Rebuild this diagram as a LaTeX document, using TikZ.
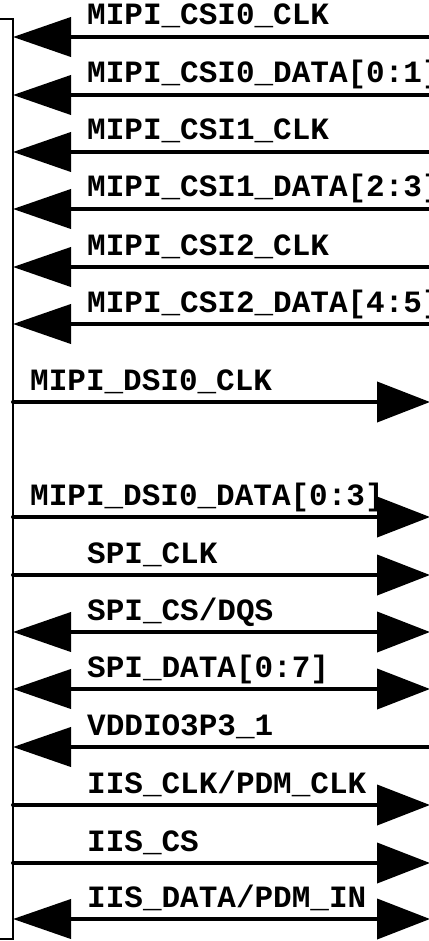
\documentclass[tikz,border=0pt]{standalone}
\usepackage{fontspec}
\setmonofont{Liberation Mono}
\usetikzlibrary{arrows.meta}

\tikzset{
  sig/.style={line width=4pt},
  sigin/.style={sig,{Triangle[length=58pt,width=39pt]}-},
  sigout/.style={sig,line cap=round,-{Triangle[length=53pt,width=40pt]}},
  sigbi/.style={sig,{Triangle[length=58pt,width=39pt]}-{Triangle[length=53pt,width=40pt]}},
  lbl/.style={anchor=base west,inner sep=0pt,font=\ttfamily\bfseries\fontsize{31}{31}\selectfont}
}

\begin{document}
\begin{tikzpicture}[x=1pt,y=-1pt]
\useasboundingbox (0,0) rectangle (428,941);
% block edge
\draw[line width=1.5pt] (0,19) -- (13,19) -- (13,939) -- (0,939);
% signal rows: index/y/label x/name
\foreach \i/\y/\x/\txt in {
  1/37/87/{MIPI\_CSI0\_CLK},
  2/95/87/{MIPI\_CSI0\_DATA[0:1]},
  3/152/87/{MIPI\_CSI1\_CLK},
  4/209/87/{MIPI\_CSI1\_DATA[2:3]},
  5/267/87/{MIPI\_CSI2\_CLK},
  6/324/87/{MIPI\_CSI2\_DATA[4:5]},
  7/402/30/{MIPI\_DSI0\_CLK},
  8/517/30/{MIPI\_DSI0\_DATA[0:3]},
  9/575/87/{SPI\_CLK},
  10/632/87/{SPI\_CS/DQS},
  11/689/87/{SPI\_DATA[0:7]},
  12/747/87/{VDDIO3P3\_1},
  13/805/87/{IIS\_CLK/PDM\_CLK},
  14/863/87/{IIS\_CS},
  15/919/87/{IIS\_DATA/PDM\_IN}}{
  \coordinate (w\i) at (13,\y);
  \coordinate (e\i) at (430,\y);
  \node[lbl] (t\i) at (\x,\y-12) {\txt};
}
% inputs
\foreach \i in {1,...,6,12}
  \draw[sigin] (w\i) -- (e\i);
% outputs
\foreach \i in {7,8,9,13,14}
  \draw[sigout] (w\i) -- (e\i);
% both ways
\foreach \i in {10,11,15}
  \draw[sigbi] (w\i) -- (e\i);
\end{tikzpicture}
\end{document}
